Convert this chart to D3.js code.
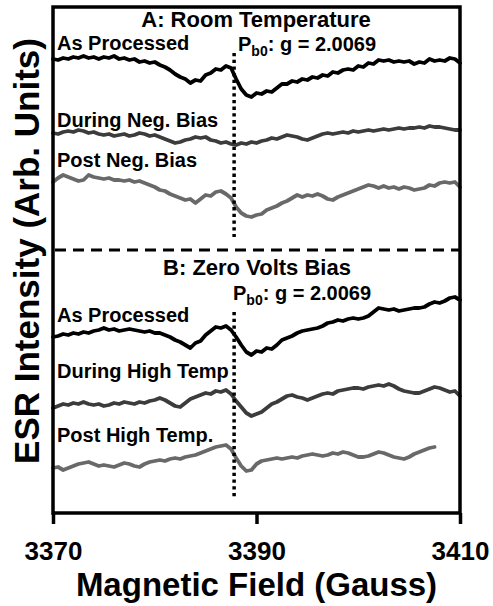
<!DOCTYPE html>
<html>
<head>
<meta charset="utf-8">
<script src="https://cdn.jsdelivr.net/npm/d3@7"></script>
<style>
  body { margin: 0; background: #fff; }
  text { font-family: "Liberation Sans", Arial, sans-serif; font-weight: bold; }
</style>
</head>
<body>
<div id="chart"></div>
<script>
const width = 493
const height = 606
const margin = {top: 7, right: 33, bottom: 93, left: 53}

// field axis (Gauss), spectra sampled every 0.5 G starting at 3370
const field_start = 3370
const field_step = 0.5
const field_ticks = [3370, 3390, 3410]
const g_marker = 3387.8   // Pb0 line, g = 2.0069

// intensities in arbitrary units (traces already offset from each other)
const a_as_processed = [
  454, 453, 455, 454, 456, 455, 457, 455, 456, 454,
  456, 455, 457, 454, 455, 453, 454, 451, 452, 450,
  451, 448, 446, 443, 439, 436, 434, 430, 433, 432,
  438, 440, 444, 443, 447, 445, 434, 424, 418, 416,
  420, 419, 422, 421, 425, 429, 429, 432, 431, 434,
  433, 436, 435, 438, 437, 441, 440, 443, 444, 443,
  447, 446, 450, 449, 453, 452, 453, 451, 452, 451,
  452, 449, 451, 450, 454, 452, 453, 452, 455, 454,
  450]
const a_during_neg_bias = [
  380, 379, 381, 382, 381, 383, 382, 380, 381, 379,
  378, 379, 377, 378, 379, 377, 378, 380, 379, 377,
  378, 376, 374, 372, 370, 371, 373, 374, 376, 375,
  376, 373, 372, 370, 371, 369, 368, 370, 369, 371,
  370, 372, 373, 375, 374, 376, 378, 377, 376, 374,
  373, 375, 377, 379, 380, 379, 380, 381, 380, 382,
  381, 382, 383, 382, 383, 384, 383, 384, 385, 384,
  385, 385, 386, 385, 387, 386, 386, 385, 384, 383,
  383]
const a_post_neg_bias = [
  331, 335, 338, 336, 334, 332, 333, 338, 336, 335,
  334, 335, 333, 333, 332, 333, 331, 332, 330, 328,
  326, 323, 322, 319, 317, 315, 313, 314, 310, 314,
  318, 317, 321, 322, 319, 315, 306, 300, 297, 296,
  298, 299, 303, 305, 307, 310, 312, 315, 318, 316,
  318, 317, 319, 317, 314, 313, 316, 318, 320, 322,
  324, 326, 328, 327, 325, 327, 325, 326, 324, 326,
  325, 323, 324, 325, 328, 327, 330, 331, 330, 331,
  326]
const b_as_processed = [
  176, 177, 179, 178, 180, 179, 181, 180, 182, 183,
  185, 183, 184, 182, 183, 184, 183, 182, 181, 182,
  180, 180, 178, 176, 173, 171, 168, 165, 170, 172,
  178, 182, 186, 185, 187, 183, 176, 168, 161, 158,
  162, 161, 165, 164, 168, 173, 175, 177, 180, 182,
  183, 184, 185, 187, 190, 191, 193, 192, 194, 195,
  194, 195, 197, 201, 205, 204, 203, 204, 202, 203,
  204, 205, 205, 206, 209, 211, 210, 212, 215, 216,
  213]
const b_during_high_temp = [
  105, 107, 109, 108, 110, 109, 111, 109, 108, 109,
  107, 108, 110, 109, 111, 110, 109, 111, 110, 112,
  113, 115, 113, 110, 107, 106, 110, 114, 116, 118,
  120, 119, 122, 121, 123, 119, 112, 106, 100, 97,
  99, 101, 105, 109, 111, 114, 117, 118, 116, 115,
  113, 115, 117, 119, 120, 119, 122, 123, 124, 125,
  125, 124, 126, 127, 128, 127, 129, 127, 124, 122,
  121, 120, 120, 122, 124, 126, 125, 123, 121, 122,
  117]
const b_post_high_temp = [
  45, 46, 43, 45, 47, 49, 50, 51, 49, 47,
  48, 47, 46, 48, 50, 49, 47, 46, 49, 51,
  52, 53, 52, 54, 55, 54, 56, 57, 58, 60,
  62, 64, 66, 67, 68, 64, 55, 47, 42, 43,
  49, 52, 53, 54, 55, 54, 55, 56, 55, 57,
  58, 59, 58, 57, 58, 60, 59, 61, 60, 58,
  56, 56, 57, 59, 61, 60, 58, 56, 55, 54,
  56, 59, 61, 63, 65, 66]

const color_black = "#000"
const color_during = "#3c3c3c"
const color_post = "#696969"

const traces = [
  {values: a_as_processed, color: color_black},
  {values: a_during_neg_bias, color: color_during},
  {values: a_post_neg_bias, color: color_post},
  {values: b_as_processed, color: color_black},
  {values: b_during_high_temp, color: color_during},
  {values: b_post_high_temp, color: color_post},
]

const svg = d3.select("#chart").append("svg")
    .attr("width", width)
    .attr("height", height)

const x = d3.scaleLinear()
    .domain([3370, 3410])
    .range([margin.left, width - margin.right])

const y = d3.scaleLinear()
    .domain([0, 506])
    .range([height - margin.bottom, margin.top])

const linea = d3.line()
    .x((d, i) => x(field_start + i * field_step))
    .y(d => y(d))

// spectra
svg.append("g")
    .attr("id", "trazas")
    .selectAll("path")
    .data(traces)
    .join("path")
    .attr("d", d => linea(d.values))
    .attr("fill", "none")
    .attr("stroke", d => d.color)
    .attr("stroke-width", 3.8)
    .attr("stroke-linejoin", "round")
    .attr("stroke-linecap", "round")

// Pb0 marker, one dotted segment per panel
const tramos = [[276, 460], [16, 201]]
svg.append("g").selectAll("line")
    .data(tramos)
    .join("line")
    .attr("x1", x(g_marker))
    .attr("x2", x(g_marker))
    .attr("y1", d => y(d[1]))
    .attr("y2", d => y(d[0]))
    .attr("stroke", "black")
    .attr("stroke-width", 3.5)
    .attr("stroke-dasharray", "3.3,3.4")

// panel separator
svg.append("line")
    .attr("x1", x(3370) + 2)
    .attr("x2", x(3410))
    .attr("y1", y(263))
    .attr("y2", y(263))
    .attr("stroke", "black")
    .attr("stroke-width", 3)
    .attr("stroke-dasharray", "11,7")

// frame
svg.append("rect")
    .attr("x", margin.left)
    .attr("y", margin.top)
    .attr("width", width - margin.left - margin.right)
    .attr("height", height - margin.top - margin.bottom)
    .attr("fill", "none")
    .attr("stroke", "black")
    .attr("stroke-width", 3.5)

// bottom axis
const ejeX = svg.append("g")
    .attr("transform", `translate(0, ${height - margin.bottom})`)
    .call(d3.axisBottom(x).tickValues(field_ticks).tickSize(11).tickSizeOuter(0).tickFormat(d3.format("d")))
ejeX.select(".domain").remove()
ejeX.selectAll(".tick line").attr("stroke", "black").attr("stroke-width", 3.5)
ejeX.selectAll(".tick text")
    .attr("y", 47)
    .attr("dy", 0)
    .attr("fill", "black")
    .style("font-family", "Liberation Sans, Arial, sans-serif")
    .style("font-weight", "bold")
    .style("font-size", "26px")

svg.append("text")
    .attr("x", (margin.left + width - margin.right) / 2)
    .attr("y", 596)
    .attr("text-anchor", "middle")
    .style("font-size", "33px")
    .text("Magnetic Field (Gauss)")

svg.append("text")
    .attr("transform", "translate(39, 251) rotate(-90)")
    .attr("text-anchor", "middle")
    .style("font-size", "35px")
    .text("ESR Intensity (Arb. Units)")

// panel titles and trace labels
const titulos = [
  {text: "A: Room Temperature", x: 256, y: 27},
  {text: "B: Zero Volts Bias", x: 257, y: 275},
]
svg.append("g").selectAll("text")
    .data(titulos)
    .join("text")
    .attr("x", d => d.x)
    .attr("y", d => d.y)
    .attr("text-anchor", "middle")
    .style("font-size", "22px")
    .text(d => d.text)

const etiquetas = [
  {text: "As Processed", y: 50},
  {text: "During Neg. Bias", y: 127},
  {text: "Post Neg. Bias", y: 167},
  {text: "As Processed", y: 322},
  {text: "During High Temp", y: 378},
  {text: "Post High Temp.", y: 442},
]
svg.append("g").selectAll("text")
    .data(etiquetas)
    .join("text")
    .attr("x", 57)
    .attr("y", d => d.y)
    .style("font-size", "20px")
    .text(d => d.text)

// Pb0 annotations
const anotaciones = [{x: 238, y: 51}, {x: 233, y: 300}]
anotaciones.forEach(a => {
    const t = svg.append("text")
        .attr("x", a.x)
        .attr("y", a.y)
        .style("font-size", "20px")
    t.append("tspan").text("P")
    t.append("tspan").attr("dy", 5).style("font-size", "14px").text("b0")
    t.append("tspan").attr("dy", -5).text(": g = 2.0069")
})
</script>
</body>
</html>
